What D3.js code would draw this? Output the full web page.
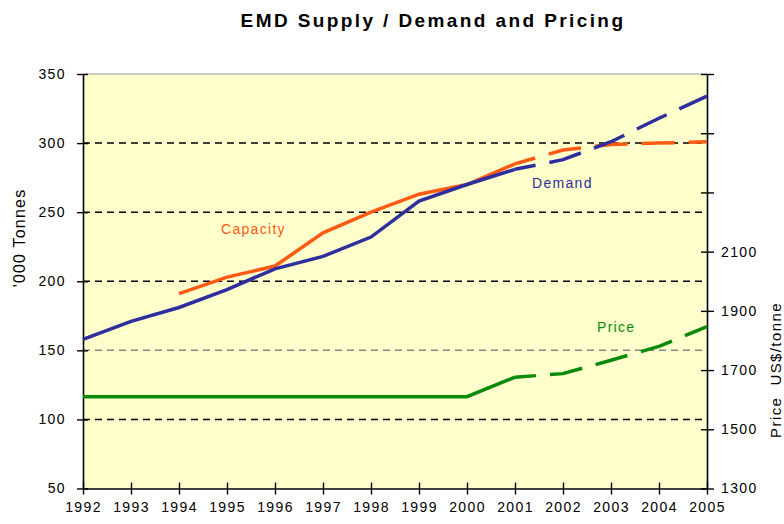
<!DOCTYPE html>
<html>
<head>
<meta charset="utf-8">
<script src="https://cdnjs.cloudflare.com/ajax/libs/d3/7.9.0/d3.min.js"></script>
<style>
  body { margin: 0; background: #fff; }
  svg { display: block; font-family: "Liberation Sans", Arial, sans-serif; }
</style>
</head>
<body>
<div id="grafico"></div>
<script>
// dados
const anos = [1992, 1993, 1994, 1995, 1996, 1997, 1998, 1999, 2000, 2001, 2002, 2003, 2004, 2005];
const demanda = [158, 171, 181, 194, 209, 218, 232, 258, 270, 281, 288, 301, 318, 334];
const capacidade = [null, null, 191, 203, 211, 235, 250, 263, 270, 285, 295, 299, 300, 301];
const preco = [1610, 1610, 1610, 1610, 1610, 1610, 1610, 1610, 1610, 1676, 1688, 1733, 1780, 1847];
const ANO_PREVISAO = 2001; // a partir daqui a linha fica tracejada

const ticksEsq = [50, 100, 150, 200, 250, 300, 350];
const gradeEsq = [100, 150, 200, 250, 300];
const ticksDir = [1300, 1500, 1700, 1900, 2100, 2300, 2500, 2700];
const rotulosDir = [1300, 1500, 1700, 1900, 2100];

const W = 784, H = 524;
const m = { top: 74, right: 77, bottom: 35.5, left: 83 };

const svg = d3.select("#grafico").append("svg")
  .attr("width", W).attr("height", H);

const x = d3.scaleLinear().domain([1992, 2005]).range([m.left, W - m.right]);
const yEsq = d3.scaleLinear().domain([50, 350]).range([H - m.bottom, m.top]);
const yDir = d3.scaleLinear().domain([1300, 2700]).range([H - m.bottom, m.top]);

// fundo da área de plotagem
svg.append("rect")
  .attr("x", x(1992)).attr("y", yEsq(350))
  .attr("width", x(2005) - x(1992)).attr("height", yEsq(50) - yEsq(350))
  .attr("fill", "#FFFFCC");

svg.append("line")
  .attr("x1", x(1992)).attr("x2", x(2005))
  .attr("y1", yEsq(350)).attr("y2", yEsq(350))
  .attr("stroke", "#999").attr("stroke-width", 1.2);

// linhas de grade tracejadas
svg.append("g").selectAll("line").data(gradeEsq).join("line")
  .attr("x1", x(1992)).attr("x2", x(2005))
  .attr("y1", d => yEsq(d)).attr("y2", d => yEsq(d))
  .attr("stroke", d => d === 150 ? "#888" : "#000")
  .attr("stroke-width", 1.5)
  .attr("stroke-dasharray", "7,5");

// eixos
const eixoX = d3.axisBottom(x).tickValues(anos).tickFormat(d3.format("d"))
  .tickSizeInner(-6).tickSizeOuter(0).tickPadding(14);
const gX = svg.append("g").attr("transform", `translate(0,${yEsq(50)})`).call(eixoX);

const eixoEsq = d3.axisLeft(yEsq).tickValues(ticksEsq).tickSizeInner(-5).tickSizeOuter(0).tickPadding(17);
const gEsq = svg.append("g").attr("transform", `translate(${x(1992)},0)`).call(eixoEsq);

const eixoDir = d3.axisRight(yDir).tickValues(ticksDir)
  .tickFormat(d => rotulosDir.includes(d) ? d : "")
  .tickSizeInner(-6).tickSizeOuter(0).tickPadding(14);
const gDir = svg.append("g").attr("transform", `translate(${x(2005)},0)`).call(eixoDir);

[gX, gEsq, gDir].forEach(g => {
  g.select(".domain").attr("stroke", "#000").attr("stroke-width", 1.6);
  g.selectAll(".tick text").attr("font-size", 14).attr("fill", "#000")
    .attr("font-family", "'Liberation Sans', Arial, sans-serif")
    .style("letter-spacing", "1.4px");
});
// ticks atravessando o eixo
gX.selectAll(".tick").append("line").attr("y2", 6).attr("stroke", "#000").attr("stroke-width", 1.4);
gEsq.selectAll(".tick").append("line").attr("x2", -6).attr("stroke", "#000").attr("stroke-width", 1.4);
gDir.selectAll(".tick").append("line").attr("x2", 7).attr("stroke", "#000").attr("stroke-width", 1.4);
gX.selectAll(".tick line").attr("stroke-width", 1.4);
gEsq.selectAll(".tick line").attr("stroke-width", 1.4);
gDir.selectAll(".tick line").attr("stroke-width", 1.4);

// séries
function desenhaSerie(valores, escala, cor) {
  const pts = anos.map((a, i) => ({ a, v: valores[i] })).filter(p => p.v != null);
  const linha = d3.line().x(p => x(p.a)).y(p => escala(p.v));
  svg.append("path")
    .datum(pts.filter(p => p.a <= ANO_PREVISAO))
    .attr("d", linha).attr("fill", "none")
    .attr("stroke", cor).attr("stroke-width", 3.5);
  svg.append("path")
    .datum(pts.filter(p => p.a >= ANO_PREVISAO))
    .attr("d", linha).attr("fill", "none")
    .attr("stroke", cor).attr("stroke-width", 3.5)
    .attr("stroke-dasharray", "33,14").attr("stroke-dashoffset", 12);
}
desenhaSerie(preco, yDir, "#0A8A0A");
desenhaSerie(capacidade, yEsq, "#FF5A14");
desenhaSerie(demanda, yEsq, "#2E2E9E");

// rótulos das séries
const rotulos = [
  { t: "Capacity", x: 221, y: 234, cor: "#FF5A14" },
  { t: "Demand", x: 532, y: 188, cor: "#2E2E9E" },
  { t: "Price", x: 597, y: 332, cor: "#0A8A0A" },
];
svg.append("g").selectAll("text").data(rotulos).join("text")
  .attr("x", d => d.x).attr("y", d => d.y)
  .attr("fill", d => d.cor).attr("font-size", 14)
  .style("letter-spacing", "1.3px")
  .text(d => d.t);

// título e títulos dos eixos
svg.append("text")
  .attr("x", 433).attr("y", 27).attr("text-anchor", "middle")
  .attr("font-size", 19).attr("font-weight", "bold")
  .style("letter-spacing", "2.4px")
  .text("EMD Supply / Demand and Pricing");

svg.append("text")
  .attr("transform", "translate(25,238) rotate(-90)")
  .attr("text-anchor", "middle").attr("font-size", 16)
  .style("letter-spacing", "1.2px")
  .text("'000 Tonnes");

svg.append("text")
  .attr("transform", "translate(781,370) rotate(-90)")
  .attr("text-anchor", "middle").attr("font-size", 15)
  .style("white-space", "pre").style("letter-spacing", "1.4px")
  .text("Price  US$/tonne");
</script>
</body>
</html>
